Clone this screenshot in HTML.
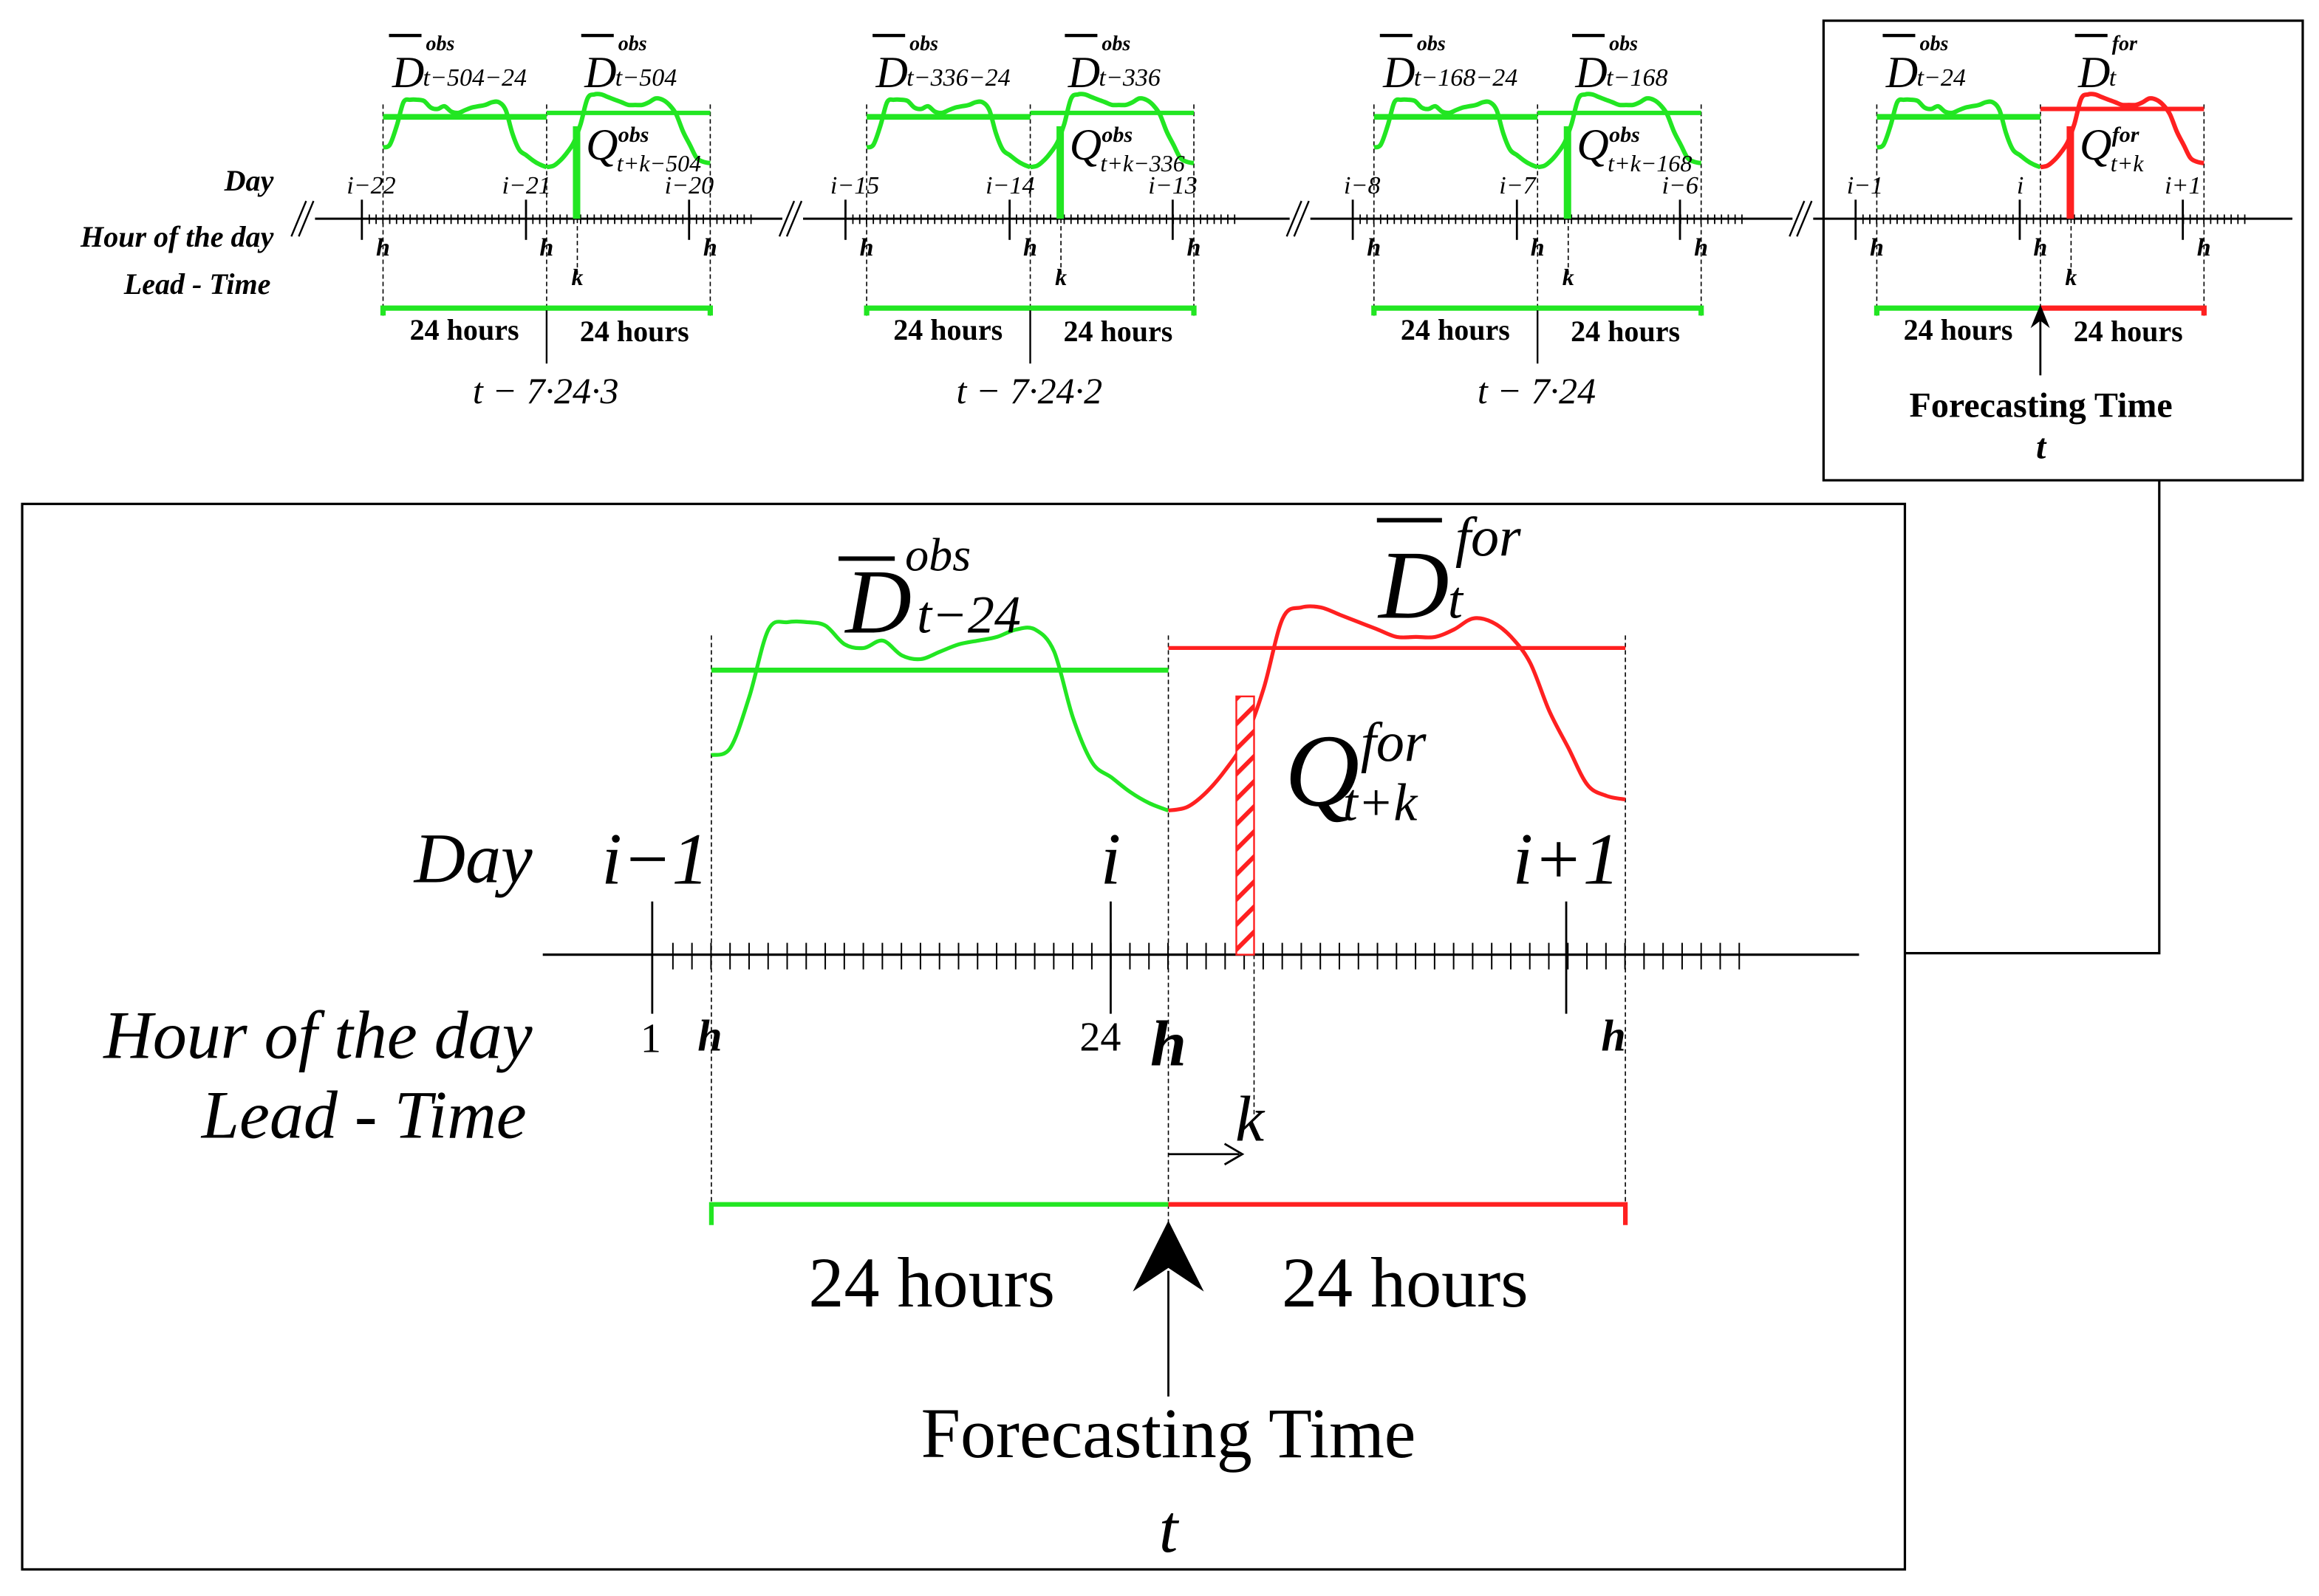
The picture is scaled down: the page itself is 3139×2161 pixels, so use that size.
<!DOCTYPE html>
<html><head><meta charset="utf-8"><style>
html,body{margin:0;padding:0;background:#fff;}
svg{display:block;}
text{font-family:"Liberation Serif",serif;fill:#000;}
.it{font-style:italic;}
.b{font-weight:bold;}
</style></head><body>
<svg id="fig" xmlns="http://www.w3.org/2000/svg" width="3139" height="2161" viewBox="0 0 1568 1080" preserveAspectRatio="none">
<defs>
<pattern id="hatch" patternUnits="userSpaceOnUse" width="12" height="12" patternTransform="rotate(-45)">
<rect width="12" height="12" fill="#fff"/><rect width="12" height="3" fill="#ff2020"/>
</pattern>
</defs>
<g id="layer"></g>
</svg>
<script>
const hours = [0,1,2,3,4,5,6,7,8,9,10,11,12,13,14,15,16,17,18,19,20,21,22,23,24];
const obsLoad = [54,56,70,88,90,90,89,84,83,85,81,80,82,84,85,86,88,88,82,64,52,48,44,41,39];
const forLoad = [39,40,44,50,58,72,91,94,94,92,90,88,86,86,86,88,91,90,86,79,66,56,46,43,42];
const obsMean = [77];
const forMean = [83];
const leadK = [4.5];
const miniPanels = ["panel-t-504","panel-t-336","panel-t-168","panel-t"];
const miniDays = [["i\u221222","i\u221221","i\u221220"],["i\u221215","i\u221214","i\u221213"],["i\u22128","i\u22127","i\u22126"],["i\u22121","i","i+1"]];
const miniCaptions = ["t \u2212 7\u00b724\u00b73","t \u2212 7\u00b724\u00b72","t \u2212 7\u00b724",""];
const miniSubA = ["t\u2212504\u221224","t\u2212336\u221224","t\u2212168\u221224","t\u221224"];
const miniSubB = ["t\u2212504","t\u2212336","t\u2212168","t"];
const miniSubQ = ["t+k\u2212504","t+k\u2212336","t+k\u2212168","t+k"];

const NS="http://www.w3.org/2000/svg";
const layer=document.getElementById('layer');
function el(tag,attrs,parent){const e=document.createElementNS(NS,tag);for(const k in attrs)e.setAttribute(k,attrs[k]);(parent||layer).appendChild(e);return e;}
function txt(s,x,y,size,cls,anchor,parent){const t=el('text',{x:x,y:y,'font-size':size,'class':cls||'','text-anchor':anchor||'middle'},parent);t.textContent=s;return t;}
function smooth(pts){let d='M'+pts[0][0]+','+pts[0][1];for(let i=0;i<pts.length-1;i++){const p0=pts[Math.max(0,i-1)],p1=pts[i],p2=pts[i+1],p3=pts[Math.min(pts.length-1,i+2)];const c1=[p1[0]+(p2[0]-p0[0])/6,p1[1]+(p2[1]-p0[1])/6],c2=[p2[0]-(p3[0]-p1[0])/6,p2[1]-(p3[1]-p1[1])/6];d+=' C'+c1[0].toFixed(1)+','+c1[1].toFixed(1)+' '+c2[0].toFixed(1)+','+c2[1].toFixed(1)+' '+p2[0].toFixed(1)+','+p2[1].toFixed(1);}return d;}

function drawPanel(g,ox,s,ay,mode,lw){
  const DAY=309, HR=DAY/24;
  const X=dx=>ox+s*dx, Y=dy=>ay+s*dy;
  const xs=h=>X(h*HR);
  const ys=v=>Y(-v*2.5);
  [0,DAY,2*DAY].forEach(dx=>{
    const d=el('line',{x1:X(dx),x2:X(dx),y1:Y(-216),y2:Y(184),stroke:'#000','stroke-width':0.8,'stroke-dasharray':'3,2'},g);
    
    
  });
  const kx=xs(24+leadK[0]);
  const kd=el('line',{x1:kx,x2:kx,y1:Y(0),y2:Y(110),stroke:'#000','stroke-width':0.8,'stroke-dasharray':'3,2'},g);
  
  
  for(let dx=-26;dx<=707;dx+=HR){el('line',{x1:X(dx),x2:X(dx),y1:Y(-8),y2:Y(10),stroke:'#000','stroke-width':s<1?0.9:1},g);}
  [-40,270,578].forEach(dx=>{el('line',{x1:X(dx),x2:X(dx),y1:Y(-36),y2:Y(40),stroke:'#000','stroke-width':1.4},g);});
  const p1=hours.map((h,i)=>[xs(h),ys(obsLoad[i])]);
  const p2=hours.map((h,i)=>[xs(24+h),ys(forLoad[i])]);
  const c1=el('path',{d:smooth(p1),fill:'none',stroke:'#22e622','stroke-width':lw},g);
  
  
  const c2=el('path',{d:smooth(p2),fill:'none',stroke:mode==='obs'?'#22e622':'#ff2020','stroke-width':lw},g);
  
  
  const m1=el('line',{x1:xs(0),x2:xs(24),y1:ys(obsMean[0]),y2:ys(obsMean[0]),stroke:'#22e622','stroke-width':lw*1.3},g);
  
  
  const mv=mode==='obs'?obsMean[0]+3:forMean[0];
  const m2=el('line',{x1:xs(24),x2:xs(48),y1:ys(mv),y2:ys(mv),stroke:mode==='obs'?'#22e622':'#ff2020','stroke-width':lw},g);
  
  
  const kv=forLoad[4]+(forLoad[5]-forLoad[4])*0.85;
  const qTop=ys(kv);
  if(s===1){
    const q=el('rect',{x:kx-12,y:qTop,width:12,height:Y(0)-qTop,fill:'url(#hatch)',stroke:'#ff2020','stroke-width':1.2},g);
    
    
  } else {
    const q=el('rect',{x:kx-3,y:qTop,width:5,height:Y(0)-qTop,fill:mode==='obs'?'#22e622':'#ff2020'},g);
    
    
  }
  const by=Y(169);
  const b1=el('path',{d:`M${xs(0)},${by+7*s*2} V${by} H${xs(24)}`,fill:'none',stroke:'#22e622','stroke-width':lw*1.2},g);
  
  
  const b2=el('path',{d:`M${xs(24)},${by} H${xs(48)} V${by+7*s*2}`,fill:'none',stroke:mode==='obs'?'#22e622':'#ff2020','stroke-width':lw*1.2},g);
  
  
  return {X,Y,xs,kx};
}

const topG=el('g',{});


el('line',{x1:212,x2:1550,y1:148,y2:148,stroke:'#000','stroke-width':1.5},topG);
[205,535,878,1218].forEach(x=>{
  el('rect',{x:x-6,y:136,width:14,height:24,fill:'#fff'},topG);
  el('line',{x1:x-8,x2:x+2,y1:160,y2:136,stroke:'#000','stroke-width':1.2},topG);
  el('line',{x1:x-3,x2:x+7,y1:160,y2:136,stroke:'#000','stroke-width':1.2},topG);
});
txt('Day',185,129,20,'it b','end',topG);
txt('Hour of the day',185,167,20,'it b','end',topG);
txt('Lead - Time',183,199,20,'it b','end',topG);

const origins=[259,586,929,1269];
miniPanels.forEach((nm,pi)=>{
  const g=el('g',{});
  
  
  const mode=pi===3?'for':'obs';
  const r=drawPanel(g,origins[pi],0.358,148,mode,3);
  const ox=origins[pi];
  const dx=[-14,97,207];
  miniDays[pi].forEach((d,j)=>txt(d,ox+dx[j]+(j===0?6:0),131,17,'it','middle',g));
  [0,110.6,221.2].forEach(d=>txt('h',ox+d,173,17,'it b','middle',g));
  txt('k',r.kx,193,16,'it b','middle',g);
  txt('24 hours',ox+55,230,20,'b','middle',g);
  txt('24 hours',ox+170,231,20,'b','middle',g);
  txt('D',ox+17,59,30,'it','middle',g);
  el('line',{x1:ox+4,x2:ox+26,y1:24,y2:24,stroke:'#000','stroke-width':2.2},g);
  txt('obs',ox+29,34,14,'it b','start',g);
  txt(miniSubA[pi],ox+27,58,17,'it','start',g);
  txt('D',ox+147,59,30,'it','middle',g);
  el('line',{x1:ox+134,x2:ox+156,y1:24,y2:24,stroke:'#000','stroke-width':2.2},g);
  txt(mode==='obs'?'obs':'for',ox+159,34,14,'it b','start',g);
  txt(miniSubB[pi],ox+157,58,17,'it','start',g);
  txt('Q',ox+148,108,30,'it','middle',g);
  txt(mode==='obs'?'obs':'for',ox+159,96,15,'it b','start',g);
  txt(miniSubQ[pi],ox+158,116,16,'it','start',g);
  if(pi<3){
    el('line',{x1:ox+110.6,x2:ox+110.6,y1:210,y2:246,stroke:'#000','stroke-width':1.2},g);
    txt(miniCaptions[pi],ox+110,273,25,'it','middle',g);
  } else {
    el('line',{x1:ox+110.6,x2:ox+110.6,y1:214,y2:254,stroke:'#000','stroke-width':1.4},g);
    el('path',{d:`M${ox+110.6},206 L${ox+104},222 L${ox+110.6},217 L${ox+117},222 Z`,fill:'#000'},g);
    txt('Forecasting Time',ox+111,282,24,'b','middle',g);
    txt('t',ox+111,310,24,'it b','middle',g);
  }
});
const box4=el('rect',{x:1233,y:14,width:324,height:311,fill:'none',stroke:'#000','stroke-width':1.6});


const conn=el('path',{d:'M1460,325 V645 H1288',fill:'none',stroke:'#000','stroke-width':1.6});



const mainBox=el('rect',{x:15,y:341,width:1273,height:721,fill:'#fff',stroke:'#000','stroke-width':1.6});


const mg=el('g',{});


el('line',{x1:367,x2:1257,y1:646,y2:646,stroke:'#000','stroke-width':1.6},mg);
drawPanel(mg,481,1,646,'for',2.6);
txt('Day',360,597,48,'it','end',mg);
txt('Hour of the day',360,716,46,'it','end',mg);
txt('Lead - Time',356,770,46,'it','end',mg);
txt('i\u22121',443,598,50,'it','middle',mg);
txt('i',751,598,50,'it','middle',mg);
txt('i+1',1059,598,50,'it','middle',mg);
txt('1',440,712,28,'','middle',mg);
txt('h',480,711,30,'it b','middle',mg);
txt('24',744,711,28,'','middle',mg);
txt('h',790,721,44,'it b','middle',mg);
txt('h',1091,711,30,'it b','middle',mg);
txt('k',845,772,44,'it','middle',mg);
el('line',{x1:790,x2:838,y1:781,y2:781,stroke:'#000','stroke-width':1.4},mg);
el('path',{d:'M828,774 L840,781 L828,788',fill:'none',stroke:'#000','stroke-width':1.4},mg);
txt('D',594,428,62,'it','middle',mg);
el('line',{x1:567,x2:605,y1:378,y2:378,stroke:'#000','stroke-width':3},mg);
txt('obs',612,386,32,'it','start',mg);
txt('t\u221224',620,428,36,'it','start',mg);
txt('D',956,418,66,'it','middle',mg);
el('line',{x1:931,x2:975,y1:352,y2:352,stroke:'#000','stroke-width':3},mg);
txt('for',984,376,38,'it','start',mg);
txt('t',979,418,36,'it','start',mg);
txt('Q',894,545,70,'it','middle',mg);
txt('for',920,515,38,'it','start',mg);
txt('t+k',908,555,36,'it','start',mg);
el('line',{x1:790,x2:790,y1:860,y2:945,stroke:'#000','stroke-width':1.4},mg);
el('path',{d:'M790,826 L766,874 L790,858 L814,874 Z',fill:'#000'},mg);
txt('24 hours',630,884,48,'','middle',mg);
txt('24 hours',950,884,48,'','middle',mg);
txt('Forecasting Time',790,986,48,'','middle',mg);
txt('t',790,1050,46,'it','middle',mg);
</script>
</body></html>
